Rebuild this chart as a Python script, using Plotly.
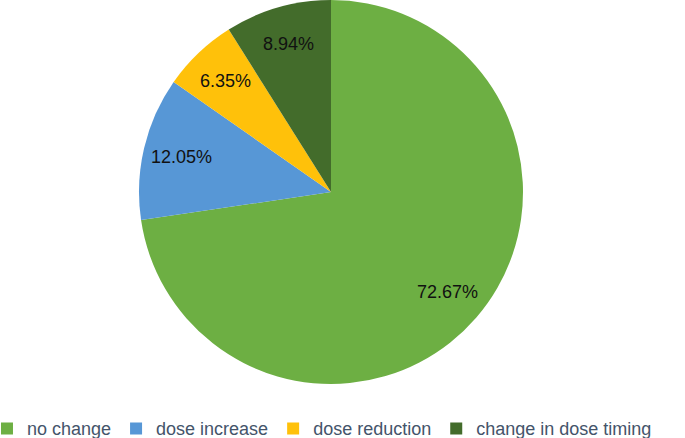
import math

import plotly.graph_objects as go

labels = ["no change", "dose increase", "dose reduction", "change in dose timing"]
values = [72.67, 12.05, 6.35, 8.94]
colors = ["#6DAF43", "#5797D6", "#FFC10A", "#436C2B"]

W, H = 685, 438
CX, CY, R = 331, 192, 192  # pie centre and radius in pixels
LABEL_R = 0.8

fig = go.Figure(
    go.Pie(
        labels=labels,
        values=values,
        sort=False,
        direction="clockwise",
        rotation=0,
        marker=dict(colors=colors, line=dict(width=0)),
        textinfo="none",
        domain=dict(x=[(CX - R) / W, (CX + R) / W], y=[1 - (CY + R) / H, 1 - (CY - R) / H]),
        hoverinfo="label+percent",
    )
)

# percentage labels at each slice's mid-angle (Excel-style placement)
total = sum(values)
cum = 0.0
for v in values:
    mid = (cum + v / 2) / total * 2 * math.pi
    cum += v
    px = CX + LABEL_R * R * math.sin(mid)
    py = CY - LABEL_R * R * math.cos(mid)
    fig.add_annotation(
        x=px / W,
        y=1 - py / H,
        xref="paper",
        yref="paper",
        xanchor="center",
        yanchor="middle",
        text=f"{v:.2f}%",
        showarrow=False,
        font=dict(family="Liberation Sans", size=18, color="#111111"),
    )

fig.update_layout(
    width=W,
    height=H,
    margin=dict(l=0, r=0, t=0, b=0, autoexpand=False),
    paper_bgcolor="white",
    plot_bgcolor="white",
    showlegend=True,
    legend=dict(
        orientation="h",
        x=-0.019,
        xanchor="left",
        y=-0.021,
        yanchor="bottom",
        font=dict(family="Liberation Sans", size=18, color="#44546A"),
        itemwidth=30,
        traceorder="normal",
    ),
)

fig.write_html(
    "out.html",
    config={"displayModeBar": False},
    post_script="document.body.style.margin = '0';",
)
